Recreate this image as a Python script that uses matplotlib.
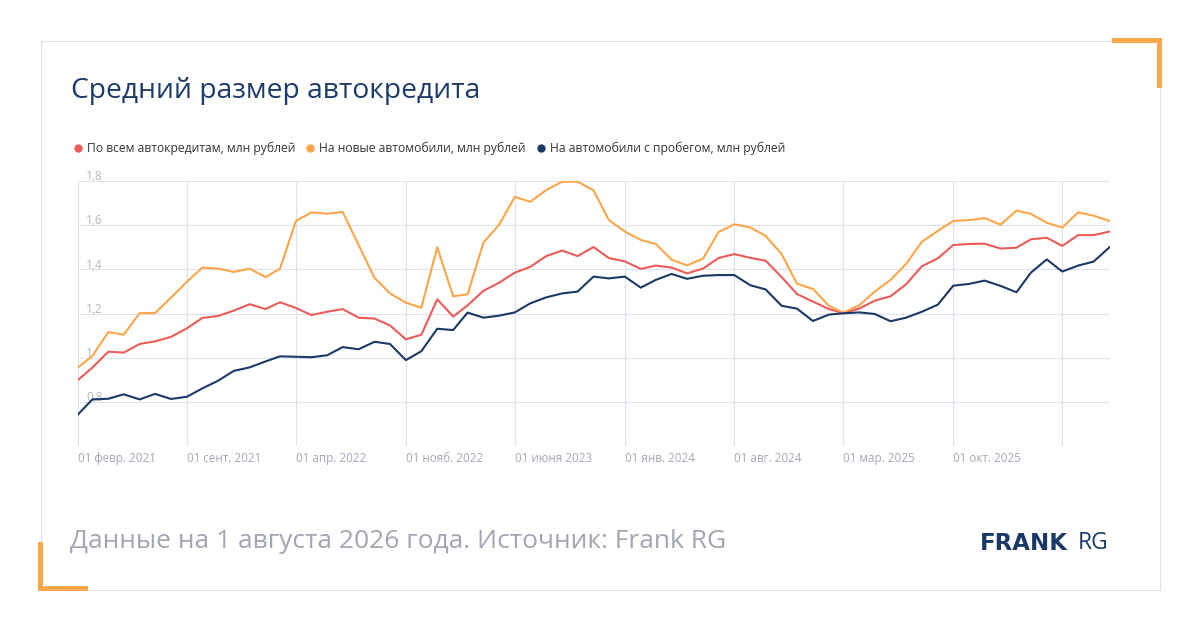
import matplotlib
matplotlib.use("Agg")
import matplotlib.pyplot as plt
import matplotlib.transforms as mtransforms
from matplotlib.lines import Line2D
from matplotlib.patches import Rectangle
import pandas as pd

plt.rcParams["font.family"] = ["Open Sans", "DejaVu Sans"]

# --- данные (млн рублей, помесячно с февраля 2021) ---
START_MONTH = "2021-02-01"

avg_all = [
    0.899, 0.955, 1.027, 1.023, 1.062, 1.074, 1.094, 1.133, 1.180, 1.189,
    1.213, 1.242, 1.220, 1.251, 1.225, 1.193, 1.208, 1.220, 1.181, 1.177,
    1.146, 1.083, 1.104, 1.264, 1.186, 1.237, 1.303, 1.339, 1.385, 1.411,
    1.460, 1.485, 1.460, 1.501, 1.451, 1.436, 1.402, 1.417, 1.408, 1.382,
    1.403, 1.451, 1.469, 1.452, 1.439, 1.365, 1.288, 1.254, 1.220, 1.202,
    1.222, 1.258, 1.278, 1.332, 1.414, 1.450, 1.510, 1.515, 1.516, 1.494,
    1.498, 1.536, 1.543, 1.506, 1.555, 1.555, 1.571,
]
avg_new = [
    0.956, 1.008, 1.116, 1.104, 1.202, 1.202, 1.272, 1.344, 1.408, 1.403,
    1.388, 1.403, 1.365, 1.403, 1.619, 1.658, 1.652, 1.660, 1.510, 1.361,
    1.291, 1.249, 1.226, 1.500, 1.278, 1.287, 1.522, 1.601, 1.728, 1.706,
    1.759, 1.797, 1.797, 1.758, 1.623, 1.571, 1.533, 1.515, 1.444, 1.418,
    1.448, 1.568, 1.604, 1.590, 1.551, 1.469, 1.335, 1.311, 1.235, 1.204,
    1.237, 1.299, 1.352, 1.424, 1.525, 1.574, 1.619, 1.623, 1.632, 1.602,
    1.666, 1.651, 1.611, 1.589, 1.658, 1.643, 1.619,
]
avg_used = [
    0.743, 0.811, 0.814, 0.834, 0.811, 0.836, 0.813, 0.823, 0.861, 0.896,
    0.940, 0.956, 0.983, 1.006, 1.004, 1.002, 1.011, 1.048, 1.038, 1.072,
    1.062, 0.989, 1.029, 1.131, 1.125, 1.204, 1.181, 1.190, 1.205, 1.246,
    1.273, 1.291, 1.299, 1.367, 1.359, 1.367, 1.317, 1.352, 1.379, 1.357,
    1.371, 1.374, 1.374, 1.328, 1.309, 1.235, 1.222, 1.166, 1.195, 1.201,
    1.205, 1.198, 1.165, 1.181, 1.208, 1.240, 1.326, 1.334, 1.349, 1.325,
    1.296, 1.385, 1.445, 1.390, 1.417, 1.435, 1.500,
]

series_names = [
    "По всем автокредитам, млн рублей",
    "На новые автомобили, млн рублей",
    "На автомобили с пробегом, млн рублей",
]

tick_dates = [
    "2021-02-01", "2021-09-01", "2022-04-01", "2022-11-01", "2023-06-01",
    "2024-01-01", "2024-08-01", "2025-03-01", "2025-10-01", "2026-05-01",
]
tick_labels = [
    "01 февр. 2021", "01 сент. 2021", "01 апр. 2022", "01 нояб. 2022",
    "01 июня 2023", "01 янв. 2024", "01 авг. 2024", "01 мар. 2025",
    "01 окт. 2025", "",
]
y_ticks = [0.6, 0.8, 1.0, 1.2, 1.4, 1.6, 1.8]
y_labels = ["", "0,8", "1", "1,2", "1,4", "1,6", "1,8"]

TITLE = "Средний размер автокредита"
FOOTER = "Данные на 1 августа 2026 года. Источник: Frank RG"

RED = "#ec5b57"
ORANGE = "#ffa549"
NAVY = "#1a3966"
GRID = "#dde2f0"
ACCENT = "#ffa64d"

W, H = 1200, 630


def fx(x):
    return x / W


def fy(y):
    return 1 - y / H


def rect_px(fig, x0, y0, x1, y1, **kw):
    fig.patches.append(Rectangle((fx(x0), fy(y1)), fx(x1) - fx(x0), fy(y0) - fy(y1),
                                 transform=fig.transFigure, figure=fig, **kw))


dates = pd.date_range(START_MONTH, periods=len(avg_all), freq="MS")

fig = plt.figure(figsize=(12, 6.3), dpi=100)
fig.patch.set_facecolor("white")

# рамка карточки и оранжевые уголки
rect_px(fig, 40.5, 40.5, 1159.5, 589.5, fill=False, edgecolor="#e1e1e1", linewidth=0.8)
rect_px(fig, 1112, 38, 1162, 43, facecolor=ACCENT, edgecolor="none")
rect_px(fig, 1157, 38, 1162, 88, facecolor=ACCENT, edgecolor="none")
rect_px(fig, 38, 542, 43, 591, facecolor=ACCENT, edgecolor="none")
rect_px(fig, 38, 586, 88, 591, facecolor=ACCENT, edgecolor="none")

ax = fig.add_axes([fx(78), fy(446), fx(1109.5) - fx(78), fy(181) - fy(446)])
ax.set_facecolor("none")

for vals, color in zip([avg_all, avg_new, avg_used], [RED, ORANGE, NAVY]):
    ax.plot(dates, vals, color=color, linewidth=1.5, zorder=3, solid_joinstyle="round")

ax.set_xlim(dates[0], dates[-1])
ax.set_ylim(0.6, 1.8)

ax.set_xticks(pd.to_datetime(tick_dates))
ax.set_xticklabels(tick_labels)
for lbl in ax.get_xticklabels():
    lbl.set_horizontalalignment("left")
ax.tick_params(axis="x", length=0, pad=4, labelsize=8.4, colors="#a3a8b8")

ax.set_yticks(y_ticks)
ax.set_yticklabels([])
ax.tick_params(axis="y", length=0)

ax.grid(True, color=GRID, linewidth=0.8, zorder=0)
for s in ax.spines.values():
    s.set_visible(False)

# подписи оси Y внутри области графика
ylab_tr = mtransforms.offset_copy(
    mtransforms.blended_transform_factory(ax.transAxes, ax.transData),
    fig=fig, x=6, y=3, units="points")
for val, txt in zip(y_ticks, y_labels):
    ax.text(0, val, txt, transform=ylab_tr, ha="left", va="center",
            fontsize=8.5, color="#b3b7c4", zorder=1)

# заголовок
fig.text(fx(71), fy(91), TITLE, fontsize=20.3, color="#1d3b6b", ha="left", va="center")

# легенда
handles = [Line2D([], [], linestyle="none", marker="o", markersize=5,
                  markerfacecolor=c, markeredgecolor=c) for c in [RED, ORANGE, NAVY]]
fig.legend(handles, series_names, loc="center left", bbox_to_anchor=(fx(74), fy(148.5)),
           ncol=3, frameon=False, fontsize=8.75, handlelength=0.7, handletextpad=0.4,
           columnspacing=0.85, borderpad=0, borderaxespad=0, labelcolor="#333333")

# подпись снизу
fig.text(fx(70), fy(542), FOOTER, fontsize=19.0, color="#a2a6b3", ha="left", va="center")

# логотип
fig.text(fx(980), fy(543), "FRANK", fontsize=16.5, color="#1a3966",
         fontweight="bold", family=["DejaVu Sans"], ha="left", va="center")
fig.text(fx(1109), fy(543), "RG", fontsize=16.5, color="#1a3966",
         fontweight="normal", family=["Open Sans", "DejaVu Sans"], ha="right", va="center")

fig.savefig("out.png", dpi=100, facecolor="white")
